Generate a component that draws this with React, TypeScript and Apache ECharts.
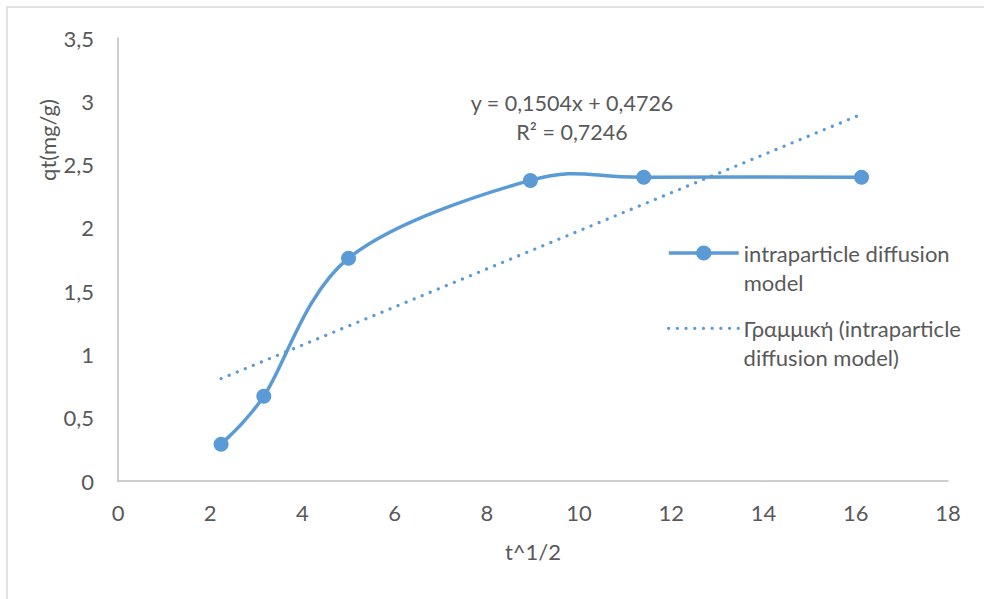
import React, { useEffect, useRef } from "react";
import * as echarts from "echarts";

// ---- data ----
const tValues = [2.236, 3.162, 5, 8.944, 11.402, 16.125];
const qtValues = [0.29, 0.67, 1.76, 2.375, 2.4, 2.4];
const trendSlope = 0.1504;
const trendIntercept = 0.4726;
const trendR2 = 0.7246;

const seriesName = "intraparticle diffusion model";
const trendName = "Γραμμική (intraparticle diffusion model)";
// leading blank line keeps the first text line level with the legend icon
const legendLabels: Record<string, string> = {
  [seriesName]: "\nintraparticle diffusion\nmodel",
  [trendName]: "\nΓραμμική (intraparticle\ndiffusion model)",
};
const xAxisTitle = "t^1/2";
const yAxisTitle = "qt(mg/g)";
const xMin = 0, xMax = 18, xStep = 2;
const yMin = 0, yMax = 3.5, yStep = 0.5;

const BLUE = "#5B9BD5";
const TEXT = "#595959";
const FONT = "Lato";
const FS = 22;

const comma = (v: number) => String(v).replace(".", ",");

export default function App() {
  const ref = useRef<HTMLDivElement>(null);
  useEffect(() => {
    if (!ref.current) return;
    const chart = echarts.init(ref.current, undefined, { renderer: "svg" });
    const tMin = Math.min(...tValues);
    const tMax = Math.max(...tValues);
    const trendData = [
      [tMin, trendSlope * tMin + trendIntercept],
      [tMax, trendSlope * tMax + trendIntercept],
    ];
    const eqText = `y = ${comma(trendSlope)}x + ${comma(trendIntercept)}\nR² = ${comma(trendR2)}`;
    const pointData = tValues.map((t, i) => [t, qtValues[i]]);

    // Excel-style smoothed curve (Catmull-Rom style Bezier through the data points, in pixel space)
    const renderCurve = (_params: any, api: any) => {
      const pts = pointData.map((p) => api.coord(p));
      const n = pts.length;
      let d = `M${pts[0][0]} ${pts[0][1]}`;
      for (let i = 0; i < n - 1; i++) {
        const p0 = pts[Math.max(i - 1, 0)];
        const p1 = pts[i];
        const p2 = pts[i + 1];
        const p3 = pts[Math.min(i + 2, n - 1)];
        const c1x = p1[0] + (p2[0] - p0[0]) / 6;
        const c1y = p1[1] + (p2[1] - p0[1]) / 6;
        const c2x = p2[0] - (p3[0] - p1[0]) / 6;
        const c2y = p2[1] - (p3[1] - p1[1]) / 6;
        d += ` C${c1x} ${c1y} ${c2x} ${c2y} ${p2[0]} ${p2[1]}`;
      }
      return {
        type: "path",
        shape: { pathData: d },
        style: { fill: "none", stroke: BLUE, lineWidth: 3.5, lineJoin: "round" },
      };
    };

    const legendBase = {
      orient: "vertical",
      left: 667,
      padding: 0,
      itemWidth: 70,
      itemHeight: 19,
      selectedMode: false,
      formatter: (n: string) => legendLabels[n] ?? n,
      textStyle: {
        fontFamily: FONT,
        fontSize: FS,
        color: TEXT,
        lineHeight: 29,
      },
    };
    chart.setOption({
      animation: false,
      backgroundColor: "#ffffff",
      textStyle: { fontFamily: FONT },
      grid: { left: 118, right: 36, top: 38, bottom: 118, containLabel: false },
      xAxis: {
        type: "value",
        min: xMin,
        max: xMax,
        interval: xStep,
        axisLine: { show: true, lineStyle: { color: "#bfbfbf", width: 1.5 } },
        axisTick: { show: false },
        splitLine: { show: false },
        axisLabel: {
          fontFamily: FONT,
          fontSize: FS,
          color: TEXT,
          margin: 31,
          verticalAlign: "middle",
          formatter: (v: number) => comma(v),
        },
        name: xAxisTitle,
        nameLocation: "middle",
        nameGap: 70,
        nameTextStyle: { fontFamily: FONT, fontSize: FS, color: TEXT, verticalAlign: "middle" },
      },
      yAxis: {
        type: "value",
        min: yMin,
        max: yMax,
        interval: yStep,
        axisLine: { show: true, lineStyle: { color: "#bfbfbf", width: 1.5 } },
        axisTick: { show: false },
        splitLine: { show: false },
        axisLabel: {
          fontFamily: FONT,
          fontSize: FS,
          color: TEXT,
          margin: 24,
          formatter: (v: number) => comma(v),
        },
      },
      legend: [
        {
          ...legendBase,
          top: 209.5,
          data: [{ name: seriesName, lineStyle: { opacity: 1, width: 3.5, color: BLUE } }],
        },
        {
          ...legendBase,
          top: 284.8,
          data: [{ name: trendName, itemStyle: { opacity: 0 }, lineStyle: { width: 3.2 } }],
        },
      ],
      graphic: [
        {
          type: "rect",
          shape: { x: 7, y: 7, width: 1200, height: 800 },
          style: { fill: "none", stroke: "#d9d9d9", lineWidth: 1.5 },
          silent: true,
        },
        {
          type: "text",
          x: 47,
          y: 140,
          rotation: Math.PI / 2,
          style: {
            text: yAxisTitle,
            fontFamily: FONT,
            fontSize: FS,
            fill: TEXT,
            align: "center",
            verticalAlign: "middle",
          },
        },
        {
          type: "text",
          x: 572,
          y: 117.5,
          style: {
            text: eqText,
            fontFamily: FONT,
            fontSize: 21.5,
            fill: TEXT,
            align: "center",
            verticalAlign: "middle",
            lineHeight: 29.6,
          },
        },
      ],
      series: [
        {
          name: "curve",
          type: "custom",
          coordinateSystem: "cartesian2d",
          data: [pointData[0]],
          renderItem: renderCurve,
          silent: true,
          z: 2,
        },
        {
          name: seriesName,
          type: "line",
          data: pointData,
          symbol: "circle",
          symbolSize: 15,
          itemStyle: { color: BLUE },
          lineStyle: { color: BLUE, width: 3.5, opacity: 0 },
          z: 3,
        },
        {
          name: trendName,
          type: "line",
          data: trendData,
          symbol: "none",
          itemStyle: { color: BLUE },
          lineStyle: { color: BLUE, width: 3.2, type: [0.1, 8.6], cap: "round" },
          z: 4,
        },
      ],
    });
    return () => chart.dispose();
  }, []);
  return (
    <div
      ref={ref}
      style={{ position: "fixed", left: 0, top: 0, width: 984, height: 599, background: "#fff" }}
    />
  );
}
